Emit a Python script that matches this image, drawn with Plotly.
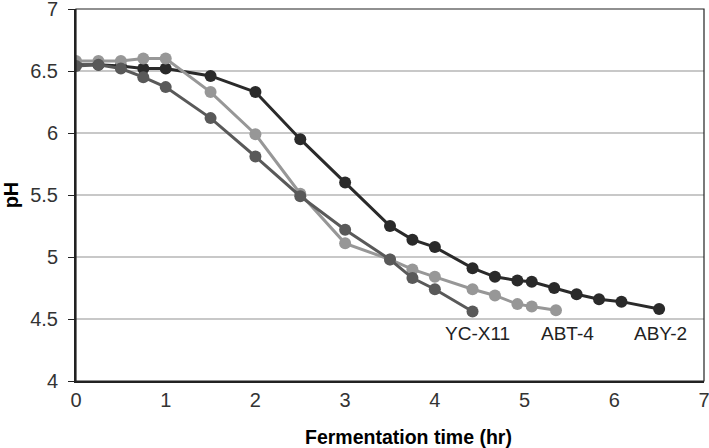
import plotly.graph_objects as go

# ---- data ----
aby2_time = [0, 0.25, 0.5, 0.75, 1, 1.5, 2, 2.5, 3, 3.5, 3.75, 4, 4.42, 4.67, 4.92, 5.08, 5.33, 5.58, 5.83, 6.08, 6.5]
aby2_ph = [6.55, 6.55, 6.54, 6.52, 6.52, 6.46, 6.33, 5.95, 5.60, 5.25, 5.14, 5.08, 4.91, 4.84, 4.81, 4.80, 4.75, 4.70, 4.66, 4.64, 4.58]

abt4_time = [0, 0.25, 0.5, 0.75, 1, 1.5, 2, 2.5, 3, 3.5, 3.75, 4, 4.42, 4.67, 4.92, 5.08, 5.35]
abt4_ph = [6.58, 6.58, 6.58, 6.60, 6.60, 6.33, 5.99, 5.51, 5.11, 4.98, 4.90, 4.84, 4.74, 4.69, 4.62, 4.60, 4.57]

ycx11_time = [0, 0.25, 0.5, 0.75, 1, 1.5, 2, 2.5, 3, 3.5, 3.75, 4, 4.42]
ycx11_ph = [6.54, 6.55, 6.52, 6.45, 6.37, 6.12, 5.81, 5.49, 5.22, 4.98, 4.83, 4.74, 4.56]

label_names = ["YC-X11", "ABT-4", "ABY-2"]
label_x = [4.47, 5.48, 6.52]
label_y = [4.38, 4.38, 4.38]

x_ticks = [0, 1, 2, 3, 4, 5, 6, 7]
y_ticks = [4, 4.5, 5, 5.5, 6, 6.5, 7]

FONT = "Liberation Sans, Arial, sans-serif"

fig = go.Figure()
series = [
    ("ABY-2", aby2_time, aby2_ph, "#2a2a2a"),
    ("ABT-4", abt4_time, abt4_ph, "#979797"),
    ("YC-X11", ycx11_time, ycx11_ph, "#595959"),
]
for name, xs, ys, col in series:
    fig.add_trace(go.Scatter(
        x=xs, y=ys, name=name, mode="lines+markers",
        line=dict(color=col, width=3),
        marker=dict(color=col, size=12),
        showlegend=False,
    ))

for t, x, y in zip(label_names, label_x, label_y):
    fig.add_annotation(x=x, y=y, text=t, showarrow=False,
                       font=dict(family=FONT, size=19, color="#222"),
                       xanchor="center", yanchor="middle")

# plot border (top/right)
fig.add_shape(type="rect", xref="paper", yref="paper", x0=0, y0=0, x1=1, y1=1,
              line=dict(color="#222", width=1.2), layer="above")

# x axis title
fig.add_annotation(xref="paper", yref="paper", x=(408 - 76) / 628, y=0, yshift=-56,
                   text="<b>Fermentation time (hr)</b>", showarrow=False,
                   font=dict(family=FONT, size=19.5, color="#000"),
                   xanchor="center", yanchor="middle")

fig.update_layout(
    width=709, height=448,
    margin=dict(l=76, r=5, t=9, b=67, autoexpand=False),
    plot_bgcolor="white", paper_bgcolor="white",
    font=dict(family=FONT, size=19, color="#222"),
    xaxis=dict(range=[0, 7], tickvals=x_ticks, showgrid=False, zeroline=False,
               showline=True, linecolor="#222", linewidth=2, ticks="",
               ticklabeloverflow="allow", automargin=False,
               tickfont=dict(size=20, color="#333")),
    yaxis=dict(range=[4, 7], tickvals=y_ticks, showgrid=True, gridcolor="#c8c8c8",
               gridwidth=1.5, zeroline=False, showline=True, linecolor="#222",
               linewidth=2, ticks="outside", ticklen=6, tickcolor="#222",
               ticklabelstandoff=6, ticklabeloverflow="allow", automargin=False,
               tickfont=dict(size=20, color="#333"),
               title=dict(text="<b>pH</b>", font=dict(family=FONT, size=20, color="#000"), standoff=10)),
)

fig.write_html("out.html", config={"displayModeBar": False},
               post_script="document.body.style.margin='0';document.body.style.overflow='hidden';")
